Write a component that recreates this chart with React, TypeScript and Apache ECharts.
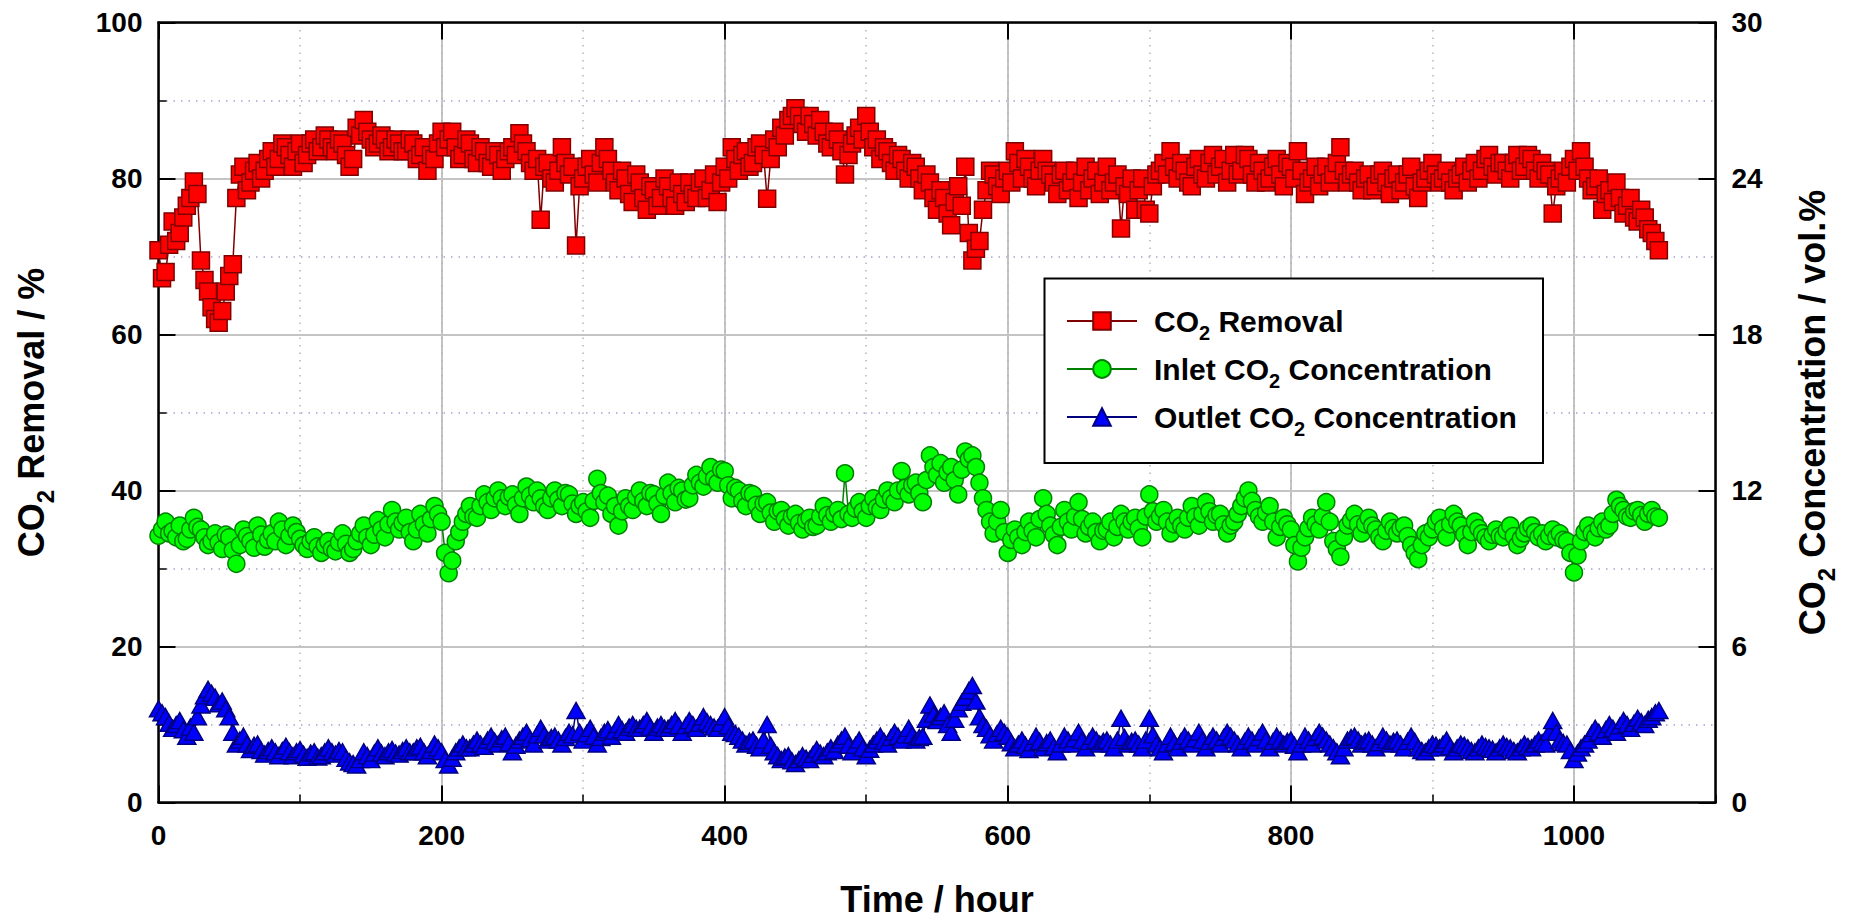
import React, { useEffect, useRef } from 'react';
import * as echarts from 'echarts';

// ---------------- data ----------------
const TIME_HOURS = [
  0, 2.5, 5, 7.5, 10, 12.5, 15, 17.5, 20, 22.5,
  25, 27.5, 30, 32.5, 35, 37.5, 40, 42.5, 45, 47.5,
  50, 52.5, 55, 57.5, 60, 62.5, 65, 67.5, 70, 72.5,
  75, 77.5, 80, 82.5, 85, 87.5, 90, 92.5, 95, 97.5,
  100, 102.5, 105, 107.5, 110, 112.5, 115, 117.5, 120, 122.5,
  125, 127.5, 130, 132.5, 135, 137.5, 140, 142.5, 145, 147.5,
  150, 152.5, 155, 157.5, 160, 162.5, 165, 167.5, 170, 172.5,
  175, 177.5, 180, 182.5, 185, 187.5, 190, 192.5, 195, 197.5,
  200, 202.5, 205, 207.5, 210, 212.5, 215, 217.5, 220, 222.5,
  225, 227.5, 230, 232.5, 235, 237.5, 240, 242.5, 245, 247.5,
  250, 252.5, 255, 257.5, 260, 262.5, 265, 267.5, 270, 272.5,
  275, 277.5, 280, 282.5, 285, 287.5, 290, 292.5, 295, 297.5,
  300, 302.5, 305, 307.5, 310, 312.5, 315, 317.5, 320, 322.5,
  325, 327.5, 330, 332.5, 335, 337.5, 340, 342.5, 345, 347.5,
  350, 352.5, 355, 357.5, 360, 362.5, 365, 367.5, 370, 372.5,
  375, 377.5, 380, 382.5, 385, 387.5, 390, 392.5, 395, 397.5,
  400, 402.5, 405, 407.5, 410, 412.5, 415, 417.5, 420, 422.5,
  425, 427.5, 430, 432.5, 435, 437.5, 440, 442.5, 445, 447.5,
  450, 452.5, 455, 457.5, 460, 462.5, 465, 467.5, 470, 472.5,
  475, 477.5, 480, 482.5, 485, 487.5, 490, 492.5, 495, 497.5,
  500, 502.5, 505, 507.5, 510, 512.5, 515, 517.5, 520, 522.5,
  525, 527.5, 530, 532.5, 535, 537.5, 540, 542.5, 545, 547.5,
  550, 552.5, 555, 557.5, 560, 562.5, 565, 567.5, 570, 572.5,
  575, 577.5, 580, 582.5, 585, 587.5, 590, 592.5, 595, 597.5,
  600, 602.5, 605, 607.5, 610, 612.5, 615, 617.5, 620, 622.5,
  625, 627.5, 630, 632.5, 635, 637.5, 640, 642.5, 645, 647.5,
  650, 652.5, 655, 657.5, 660, 662.5, 665, 667.5, 670, 672.5,
  675, 677.5, 680, 682.5, 685, 687.5, 690, 692.5, 695, 697.5,
  700, 702.5, 705, 707.5, 710, 712.5, 715, 717.5, 720, 722.5,
  725, 727.5, 730, 732.5, 735, 737.5, 740, 742.5, 745, 747.5,
  750, 752.5, 755, 757.5, 760, 762.5, 765, 767.5, 770, 772.5,
  775, 777.5, 780, 782.5, 785, 787.5, 790, 792.5, 795, 797.5,
  800, 802.5, 805, 807.5, 810, 812.5, 815, 817.5, 820, 822.5,
  825, 827.5, 830, 832.5, 835, 837.5, 840, 842.5, 845, 847.5,
  850, 852.5, 855, 857.5, 860, 862.5, 865, 867.5, 870, 872.5,
  875, 877.5, 880, 882.5, 885, 887.5, 890, 892.5, 895, 897.5,
  900, 902.5, 905, 907.5, 910, 912.5, 915, 917.5, 920, 922.5,
  925, 927.5, 930, 932.5, 935, 937.5, 940, 942.5, 945, 947.5,
  950, 952.5, 955, 957.5, 960, 962.5, 965, 967.5, 970, 972.5,
  975, 977.5, 980, 982.5, 985, 987.5, 990, 992.5, 995, 997.5,
  1000, 1002.5, 1005, 1007.5, 1010, 1012.5, 1015, 1017.5, 1020, 1022.5,
  1025, 1027.5, 1030, 1032.5, 1035, 1037.5, 1040, 1042.5, 1045, 1047.5,
  1050, 1052.5, 1055, 1057.5, 1060,
];

// CO2 removal, %
const CO2_REMOVAL = [
  70.8, 67.2, 68.0, 71.5, 74.5, 72.0, 73.0, 75.0, 76.5, 77.5,
  79.6, 78.0, 69.5, 67.0, 65.5, 63.5, 62.0, 61.5, 63.0, 65.5,
  67.5, 69.0, 77.5, 80.5, 81.5, 78.5, 79.5, 81.0, 82.0, 80.0,
  81.0, 82.5, 83.5, 81.5, 82.5, 84.5, 84.0, 83.0, 81.5, 83.5,
  84.5, 82.0, 83.0, 84.5, 85.0, 83.5, 84.0, 85.5, 85.0, 84.0,
  83.5, 85.0, 84.5, 83.0, 81.5, 82.5, 86.5, 85.5, 87.5, 86.0,
  85.0, 84.0, 84.5, 85.5, 85.0, 83.5, 84.0, 85.0, 84.5, 83.5,
  83.5, 85.0, 84.5, 82.5, 83.0, 84.0, 81.0, 83.0, 82.5, 84.5,
  86.0, 84.0, 85.0, 86.0, 84.0, 82.5, 83.0, 85.0, 84.5, 82.5,
  82.0, 84.0, 83.5, 82.0, 81.5, 83.5, 83.0, 81.0, 82.5, 83.5,
  84.0, 83.0, 85.8, 84.5, 83.5, 82.0, 81.0, 82.5, 74.7, 81.5,
  82.0, 80.0, 79.5, 81.0, 84.0, 82.0, 80.5, 81.5, 71.4, 79.0,
  80.0, 81.5, 82.5, 80.5, 79.5, 82.0, 84.0, 82.5, 81.0, 79.5,
  78.5, 81.0, 80.0, 78.0, 77.0, 80.5, 79.5, 77.5, 76.0, 79.0,
  78.5, 76.5, 77.5, 80.0, 79.0, 77.5, 76.5, 79.5, 78.0, 77.0,
  79.5, 78.0, 77.5, 79.5, 80.0, 77.5, 78.5, 80.5, 77.0, 79.5,
  81.5, 80.0, 84.0, 82.5, 81.0, 83.0, 83.5, 81.5, 82.0, 84.0,
  84.5, 83.0, 77.4, 82.5, 85.0, 84.0, 86.5, 85.5, 87.5, 88.0,
  89.0, 88.0, 87.0, 86.0, 88.0, 87.0, 85.5, 87.5, 86.0, 84.5,
  84.0, 86.0, 85.0, 83.5, 80.5, 83.0, 84.5, 85.5, 86.5, 85.0,
  88.0, 86.0, 84.0, 85.0, 82.5, 84.0, 83.5, 82.0, 81.0, 83.0,
  82.5, 81.0, 80.0, 82.0, 81.5, 80.0, 78.5, 80.5, 79.5, 77.5,
  76.0, 78.5, 77.5, 75.5, 74.0, 77.0, 79.0, 76.5, 81.5, 73.0,
  69.5, 71.0, 72.0, 76.0, 78.5, 81.0, 80.5, 79.0, 78.0, 80.0,
  81.0, 79.5, 83.5, 82.0, 80.0, 82.5, 81.5, 80.0, 79.0, 81.0,
  82.5, 81.0, 80.5, 79.5, 78.0, 80.5, 81.0, 78.5, 79.5, 81.0,
  77.5, 79.5, 81.5, 78.5, 80.0, 81.0, 78.0, 79.5, 81.5, 78.5,
  79.5, 80.5, 73.6, 79.0, 78.0, 80.0, 76.0, 78.5, 80.0, 76.0,
  75.5, 79.0, 80.5, 81.0, 82.0, 80.5, 83.5, 81.5, 80.0, 82.0,
  81.0, 79.5, 79.0, 81.5, 82.5, 80.5, 80.0, 82.0, 83.0, 80.5,
  81.5, 82.5, 79.5, 81.0, 83.0, 80.5, 81.0, 83.0, 82.5, 80.5,
  79.5, 82.0, 81.0, 79.5, 80.0, 81.5, 82.5, 80.5, 79.0, 82.0,
  81.5, 80.0, 83.5, 81.0, 78.0, 79.5, 80.0, 81.5, 79.0, 80.5,
  81.5, 79.5, 80.5, 82.0, 84.0, 81.0, 79.5, 80.5, 81.0, 79.5,
  78.5, 80.0, 80.5, 78.5, 79.0, 80.5, 81.0, 79.5, 78.0, 80.0,
  80.5, 78.5, 79.5, 80.5, 81.5, 79.0, 77.5, 79.5, 80.0, 81.0,
  82.0, 80.5, 79.5, 80.0, 81.0, 79.5, 78.5, 80.0, 80.5, 81.5,
  79.5, 81.0, 82.0, 80.0, 81.0, 82.5, 83.0, 81.5, 80.5, 82.0,
  82.0, 81.0, 80.0, 82.0, 83.0, 81.0, 81.5, 83.0, 82.5, 81.0,
  80.0, 82.0, 81.0, 80.5, 75.5, 79.0, 80.0, 81.0, 79.5, 81.5,
  82.5, 81.0, 83.5, 81.5, 80.0, 78.5, 79.0, 80.0, 76.0, 78.0,
  78.5, 77.0, 79.5, 77.5, 75.5, 76.5, 77.5, 75.0, 74.5, 76.0,
  75.0, 73.5, 73.0, 72.0, 70.8,
];

// Inlet CO2 concentration, vol.%
const INLET_CO2 = [
  10.26, 10.50, 10.80, 10.35, 10.44, 10.20, 10.65, 10.05, 10.14, 10.50,
  10.95, 10.60, 10.50, 10.20, 9.90, 10.05, 10.35, 10.00, 9.75, 10.30,
  10.20, 9.70, 9.18, 9.90, 10.50, 10.25, 10.05, 9.80, 10.65, 10.30,
  9.84, 10.10, 10.35, 10.05, 10.80, 10.50, 9.90, 10.25, 10.65, 10.40,
  10.14, 9.90, 9.75, 10.05, 10.20, 9.85, 9.60, 9.90, 10.05, 9.75,
  9.66, 10.00, 10.35, 9.95, 9.60, 9.75, 10.05, 10.35, 10.65, 10.20,
  9.90, 10.30, 10.86, 10.50, 10.20, 10.70, 11.25, 10.80, 10.50, 10.75,
  10.95, 10.40, 10.05, 10.50, 11.10, 10.70, 10.35, 10.90, 11.40, 11.10,
  10.80, 9.60, 8.82, 9.30, 10.05, 10.40, 10.80, 11.10, 11.40, 11.00,
  10.95, 11.40, 11.85, 11.55, 11.25, 11.70, 12.00, 11.70, 11.40, 11.75,
  11.85, 11.45, 11.10, 11.70, 12.15, 11.80, 11.55, 12.00, 11.70, 11.40,
  11.25, 11.70, 12.00, 11.65, 11.40, 11.90, 11.85, 11.50, 11.10, 11.40,
  11.55, 11.20, 10.95, 11.60, 12.45, 11.90, 11.55, 11.80, 11.10, 11.40,
  10.65, 11.20, 11.70, 11.40, 11.25, 11.75, 12.00, 11.60, 11.40, 11.90,
  11.85, 11.50, 11.10, 11.80, 12.30, 11.90, 11.55, 12.10, 12.00, 11.65,
  11.70, 12.20, 12.60, 12.30, 12.15, 12.55, 12.90, 12.45, 12.30, 12.80,
  12.75, 12.20, 11.70, 12.10, 12.00, 11.60, 11.40, 11.90, 11.85, 11.45,
  11.10, 11.50, 11.55, 11.15, 10.80, 11.20, 11.25, 10.90, 10.65, 11.00,
  11.10, 10.75, 10.50, 10.85, 10.95, 10.60, 10.65, 11.00, 11.40, 11.05,
  10.80, 11.10, 11.25, 10.90, 12.66, 11.10, 10.95, 11.30, 11.55, 11.20,
  10.95, 11.40, 11.70, 11.35, 11.25, 11.65, 12.00, 11.70, 11.55, 12.00,
  12.75, 12.10, 11.85, 12.20, 12.30, 11.90, 11.55, 12.40, 13.35, 12.90,
  12.60, 13.05, 12.30, 12.70, 12.90, 12.40, 11.85, 12.80, 13.50, 13.20,
  13.35, 12.90, 12.30, 11.70, 11.25, 10.80, 10.35, 10.80, 11.25, 10.40,
  9.60, 10.10, 10.50, 10.20, 9.90, 10.40, 10.80, 10.45, 10.20, 10.90,
  11.70, 11.10, 10.65, 10.30, 9.90, 10.60, 11.25, 10.80, 10.50, 11.00,
  11.55, 10.90, 10.35, 10.60, 10.80, 10.40, 10.05, 10.45, 10.50, 10.80,
  10.20, 10.60, 11.10, 10.80, 10.50, 10.80, 10.95, 10.55, 10.20, 11.00,
  11.85, 11.20, 10.80, 11.00, 11.25, 10.80, 10.35, 10.70, 10.95, 10.65,
  10.50, 10.95, 11.40, 11.00, 10.65, 11.10, 11.55, 11.20, 10.80, 11.05,
  11.10, 10.70, 10.35, 10.65, 10.80, 11.10, 11.40, 11.70, 12.00, 11.60,
  11.25, 11.00, 10.80, 11.15, 11.40, 10.80, 10.20, 10.60, 10.95, 10.70,
  10.50, 9.90, 9.27, 9.80, 10.20, 10.55, 10.95, 10.70, 10.50, 11.00,
  11.55, 10.80, 10.05, 9.75, 9.45, 10.20, 10.65, 10.85, 11.10, 10.70,
  10.35, 10.70, 10.95, 10.65, 10.50, 10.20, 10.05, 10.45, 10.80, 10.55,
  10.35, 10.55, 10.65, 10.25, 9.90, 9.60, 9.36, 9.90, 10.35, 10.20,
  10.50, 10.80, 10.95, 10.55, 10.20, 10.70, 11.10, 10.80, 10.65, 10.30,
  9.90, 10.40, 10.80, 10.55, 10.35, 10.20, 10.05, 10.30, 10.50, 10.25,
  10.20, 10.45, 10.65, 10.25, 9.90, 10.15, 10.35, 10.55, 10.65, 10.40,
  10.20, 10.35, 10.05, 10.25, 10.50, 10.20, 10.35, 10.10, 10.05, 9.60,
  8.85, 9.50, 10.05, 10.40, 10.65, 10.35, 10.20, 10.55, 10.80, 10.50,
  10.65, 11.10, 11.64, 11.40, 11.25, 11.00, 10.95, 11.20, 11.25, 11.05,
  10.80, 11.10, 11.25, 11.00, 10.95,
];

// Outlet CO2 concentration, vol.%
const OUTLET_CO2 = [
  3.60, 3.45, 3.30, 3.05, 2.85, 3.00, 3.15, 2.80, 2.55, 2.90,
  2.70, 3.30, 3.75, 4.10, 4.35, 4.20, 4.05, 3.80, 3.90, 3.60,
  3.30, 2.70, 2.25, 2.40, 2.55, 2.25, 2.04, 2.20, 2.25, 2.00,
  1.86, 2.00, 2.10, 1.95, 1.80, 2.00, 2.16, 1.95, 1.80, 1.95,
  2.04, 1.85, 1.74, 1.90, 1.95, 1.75, 1.80, 1.95, 2.10, 1.95,
  1.86, 2.00, 1.95, 1.70, 1.56, 1.50, 1.44, 1.65, 1.95, 1.80,
  1.65, 1.90, 2.10, 1.90, 1.80, 1.95, 2.04, 1.90, 1.86, 2.00,
  2.10, 1.95, 1.95, 2.10, 2.16, 1.95, 1.80, 2.00, 2.25, 2.10,
  1.95, 1.65, 1.44, 1.70, 1.95, 2.10, 2.25, 2.10, 2.10, 2.25,
  2.40, 2.25, 2.16, 2.40, 2.55, 2.35, 2.25, 2.45, 2.55, 2.30,
  1.95, 2.20, 2.40, 2.55, 2.70, 2.45, 2.25, 2.60, 2.85, 2.60,
  2.40, 2.50, 2.55, 2.40, 2.25, 2.50, 2.70, 2.60, 3.54, 2.70,
  2.40, 2.65, 2.85, 2.55, 2.25, 2.50, 2.70, 2.80, 2.55, 2.75,
  3.00, 2.80, 2.70, 2.90, 3.00, 2.85, 2.85, 3.00, 3.15, 2.90,
  2.70, 2.90, 3.00, 2.85, 2.85, 3.00, 3.15, 2.95, 2.70, 2.95,
  3.15, 3.00, 2.85, 3.05, 3.30, 3.10, 3.00, 2.90, 2.85, 3.05,
  3.30, 2.95, 2.70, 2.65, 2.55, 2.40, 2.25, 2.35, 2.40, 2.20,
  2.10, 2.40, 3.00, 2.20, 1.95, 1.80, 1.65, 1.75, 1.80, 1.60,
  1.50, 1.65, 1.80, 1.70, 1.65, 1.85, 2.04, 1.90, 1.80, 1.95,
  2.10, 2.00, 2.25, 2.40, 2.55, 2.20, 1.95, 2.20, 2.40, 2.10,
  1.80, 2.05, 2.25, 2.40, 2.55, 2.35, 2.25, 2.50, 2.70, 2.55,
  2.40, 2.60, 2.85, 2.60, 2.40, 2.50, 2.55, 3.20, 3.75, 3.40,
  3.15, 3.30, 3.45, 3.00, 2.70, 3.20, 3.60, 3.85, 4.05, 4.30,
  4.50, 3.90, 3.30, 3.00, 2.85, 2.60, 2.40, 2.65, 2.85, 2.70,
  2.55, 2.30, 2.10, 2.25, 2.40, 2.20, 2.04, 2.30, 2.55, 2.35,
  2.10, 2.30, 2.40, 2.15, 1.95, 2.25, 2.55, 2.40, 2.25, 2.45,
  2.70, 2.40, 2.10, 2.35, 2.55, 2.40, 2.25, 2.35, 2.40, 2.25,
  2.10, 2.40, 3.24, 2.50, 2.25, 2.35, 2.40, 2.25, 2.10, 2.40,
  3.24, 2.60, 2.25, 2.10, 1.95, 2.25, 2.55, 2.30, 2.10, 2.35,
  2.55, 2.40, 2.25, 2.45, 2.70, 2.40, 2.10, 2.35, 2.55, 2.40,
  2.25, 2.50, 2.70, 2.55, 2.40, 2.25, 2.10, 2.35, 2.55, 2.40,
  2.25, 2.50, 2.70, 2.40, 2.10, 2.35, 2.55, 2.40, 2.25, 2.35,
  2.40, 2.20, 1.95, 2.25, 2.55, 2.40, 2.25, 2.50, 2.70, 2.55,
  2.40, 2.25, 2.10, 1.95, 1.80, 2.10, 2.40, 2.50, 2.55, 2.40,
  2.25, 2.35, 2.40, 2.25, 2.10, 2.30, 2.55, 2.40, 2.25, 2.35,
  2.40, 2.25, 2.10, 2.35, 2.55, 2.35, 2.10, 2.00, 1.95, 2.10,
  2.25, 2.20, 2.10, 2.25, 2.40, 2.15, 1.95, 2.10, 2.25, 2.20,
  2.10, 2.00, 1.95, 2.10, 2.25, 2.15, 2.10, 2.05, 1.95, 2.10,
  2.25, 2.15, 2.10, 2.00, 1.95, 2.10, 2.25, 2.15, 2.10, 2.25,
  2.40, 2.30, 2.25, 2.70, 3.15, 2.70, 2.40, 2.30, 2.25, 2.00,
  1.65, 1.90, 2.10, 2.25, 2.40, 2.65, 2.85, 2.70, 2.55, 2.80,
  3.00, 2.85, 2.70, 2.95, 3.15, 3.00, 2.85, 3.05, 3.24, 3.10,
  3.00, 3.20, 3.30, 3.45, 3.54,
];

const SERIES_NAMES = ['CO2 Removal', 'Inlet CO2 Concentration', 'Outlet CO2 Concentration'];
const X_RANGE = [0, 1100];
const X_MAJOR = 200;
const X_MINOR = 100;
const LEFT_RANGE = [0, 100];
const LEFT_MAJOR = 20;
const RIGHT_RANGE = [0, 30];
const RIGHT_MAJOR = 6;
const X_TITLE = 'Time / hour';
const LEFT_TITLE = 'CO2 Removal / %';
const RIGHT_TITLE = 'CO2 Concentration / vol.%';

// ---------------- helpers ----------------
const F = "'Liberation Sans', Arial, Helvetica, sans-serif";
const pairs = (ys: number[]) => TIME_HOURS.map((t, i) => [t, ys[i]]);
const richLabel = (s: string) => {
  const i = s.indexOf('CO2');
  const pre = s.slice(0, i);
  const post = s.slice(i + 3);
  return `{a|${pre}CO}{s|2}{a|${post}}`;
};

const GRID = { left: 158.5, top: 22.5, right: 135.5, bottom: 116.5 };

export default function App() {
  const ref = useRef<HTMLDivElement>(null);

  useEffect(() => {
    if (!ref.current) return;
    const chart = echarts.init(ref.current, null, { renderer: 'svg' });

    const labelStyle = { fontSize: 28, fontWeight: 'bold', color: '#000', fontFamily: F };
    const titleRich = {
      a: { fontSize: 36, fontWeight: 'bold', fontFamily: F, fill: '#000', lineHeight: 52, verticalAlign: 'middle' },
      s: { fontSize: 24, fontWeight: 'bold', fontFamily: F, fill: '#000', lineHeight: 24, verticalAlign: 'bottom' },
    };

    const option: any = {
      animation: false,
      backgroundColor: '#ffffff',
      textStyle: { fontFamily: F },
      grid: { ...GRID, containLabel: false },
      legend: {
        show: true,
        data: SERIES_NAMES,
        orient: 'vertical',
        left: 1066,
        top: 306,
        padding: 0,
        itemGap: 11,
        itemWidth: 70,
        itemHeight: 22,
        selectedMode: false,
        z: 6,
        formatter: (name: string) => richLabel(name),
        textStyle: {
          fontSize: 30,
          fontWeight: 'bold',
          color: '#000',
          fontFamily: F,
          padding: [0, 0, 0, 12],
          rich: {
            a: { fontSize: 30, fontWeight: 'bold', color: '#000', fontFamily: F, lineHeight: 44, verticalAlign: 'middle' },
            s: { fontSize: 20, fontWeight: 'bold', color: '#000', fontFamily: F, lineHeight: 20, verticalAlign: 'bottom' },
          },
        },
      },
      xAxis: [
        {
          type: 'value',
          position: 'bottom',
          min: X_RANGE[0],
          max: X_RANGE[1],
          interval: X_MAJOR,
          axisLine: { show: true, onZero: false, lineStyle: { color: '#000', width: 2.5 } },
          axisTick: { show: true, inside: true, length: 17, lineStyle: { color: '#000', width: 2 } },
          axisLabel: {
            ...labelStyle,
            margin: 19,
            showMaxLabel: false,
            formatter: (v: number) => (v > 1000 ? '' : String(v)),
          },
          splitLine: { show: true, lineStyle: { color: '#c4c4c4', width: 2 } },
        },
        {
          type: 'value',
          position: 'bottom',
          min: X_RANGE[0],
          max: X_RANGE[1],
          interval: X_MINOR,
          axisLine: { show: false },
          axisTick: { show: true, inside: true, length: 8, lineStyle: { color: '#000', width: 1.5 } },
          axisLabel: { show: false },
          splitLine: { show: true, lineStyle: { color: '#b4b4b4', width: 1.5, type: [1.5, 6] } },
        },
        {
          type: 'value',
          position: 'top',
          min: X_RANGE[0],
          max: X_RANGE[1],
          interval: X_MAJOR,
          axisLine: { show: true, onZero: false, lineStyle: { color: '#000', width: 2.5 } },
          axisTick: { show: true, inside: true, length: 17, lineStyle: { color: '#000', width: 2 } },
          axisLabel: { show: false },
          splitLine: { show: false },
        },
      ],
      yAxis: [
        {
          type: 'value',
          position: 'left',
          min: LEFT_RANGE[0],
          max: LEFT_RANGE[1],
          interval: LEFT_MAJOR,
          axisLine: { show: true, onZero: false, lineStyle: { color: '#000', width: 2.5 } },
          axisTick: { show: true, inside: true, length: 17, lineStyle: { color: '#000', width: 2 } },
          minorTick: { show: true, splitNumber: 2, length: 8, lineStyle: { color: '#000', width: 1.5 } },
          axisLabel: { ...labelStyle, margin: 16 },
          splitLine: { show: true, lineStyle: { color: '#c4c4c4', width: 2 } },
          minorSplitLine: { show: true, lineStyle: { color: '#a4a4d4', width: 1.5, type: [1.5, 6] } },
        },
        {
          type: 'value',
          position: 'right',
          min: RIGHT_RANGE[0],
          max: RIGHT_RANGE[1],
          interval: RIGHT_MAJOR,
          axisLine: { show: true, onZero: false, lineStyle: { color: '#000', width: 2.5 } },
          axisTick: { show: true, inside: true, length: 17, lineStyle: { color: '#000', width: 2 } },
          axisLabel: { ...labelStyle, margin: 16 },
          splitLine: { show: false },
        },
      ],
      series: [
        {
          name: SERIES_NAMES[0],
          type: 'line',
          xAxisIndex: 0,
          yAxisIndex: 0,
          data: pairs(CO2_REMOVAL),
          symbol: 'rect',
          symbolSize: 17,
          showAllSymbol: true,
          lineStyle: { color: '#800000', width: 1.5 },
          itemStyle: { color: '#ff0000', borderColor: '#800000', borderWidth: 1.5 },
          emphasis: { disabled: true },
          z: 3,
        },
        {
          name: SERIES_NAMES[1],
          type: 'line',
          xAxisIndex: 0,
          yAxisIndex: 1,
          data: pairs(INLET_CO2),
          symbol: 'circle',
          symbolSize: 17,
          showAllSymbol: true,
          lineStyle: { color: '#008000', width: 1.5 },
          itemStyle: { color: '#00ff00', borderColor: '#008000', borderWidth: 1.5 },
          emphasis: { disabled: true },
          z: 3,
        },
        {
          name: SERIES_NAMES[2],
          type: 'line',
          xAxisIndex: 0,
          yAxisIndex: 1,
          data: pairs(OUTLET_CO2),
          symbol: 'triangle',
          symbolSize: [18, 16],
          showAllSymbol: true,
          lineStyle: { color: '#000080', width: 1.5 },
          itemStyle: { color: '#0000ff', borderColor: '#000080', borderWidth: 1.5 },
          emphasis: { disabled: true },
          z: 3,
        },
      ],
      graphic: [
        {
          type: 'rect',
          z: 5,
          shape: { x: 1044.5, y: 278.5, width: 498.5, height: 184.5 },
          style: { fill: '#ffffff', stroke: '#000000', lineWidth: 2 },
        },
        {
          type: 'text',
          z: 10,
          x: 937,
          y: 899,
          style: {
            text: X_TITLE,
            font: `bold 36px ${F}`,
            fill: '#000',
            align: 'center',
            verticalAlign: 'middle',
          },
        },
        {
          type: 'text',
          z: 10,
          x: 31,
          y: 412.5,
          rotation: Math.PI / 2,
          style: {
            text: richLabel(LEFT_TITLE),
            rich: titleRich,
            fill: '#000',
            align: 'center',
            verticalAlign: 'middle',
          },
        },
        {
          type: 'text',
          z: 10,
          x: 1812,
          y: 412.5,
          rotation: Math.PI / 2,
          style: {
            text: richLabel(RIGHT_TITLE),
            rich: titleRich,
            fill: '#000',
            align: 'center',
            verticalAlign: 'middle',
          },
        },
      ],
    };

    chart.setOption(option);
    return () => chart.dispose();
  }, []);

  return (
    <div
      ref={ref}
      style={{ position: 'fixed', left: 0, top: 0, width: '1851px', height: '919px', background: '#fff' }}
    />
  );
}
